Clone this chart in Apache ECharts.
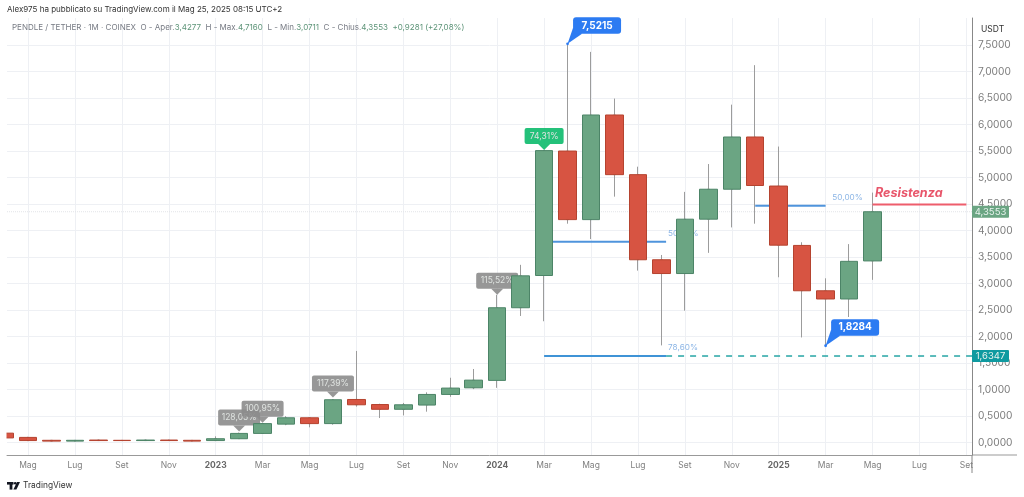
<!DOCTYPE html>
<html>
<head>
<meta charset="utf-8">
<title>PENDLE / TETHER</title>
<style>
  html, body { margin: 0; padding: 0; background: #fff; }
  #chart { width: 1024px; height: 497px; }
</style>
<script src="https://cdn.jsdelivr.net/npm/echarts@6/dist/echarts.min.js"></script>
</head>
<body>
<div id="chart"></div>
<script>
// months, index 0 = Mag 2022, the first candle (Apr 2022) is cut off by the left edge
var monthIndex = [-1,0,1,2,3,4,5,6,7,8,9,10,11,12,13,14,15,16,17,18,19,20,21,22,23,24,25,26,27,28,29,30,31,32,33,34,35,36];
var opens  = [0.18,0.10,0.045,0.03,0.05,0.045,0.04,0.05,0.045,0.04,0.075,0.175,0.35,0.47,0.36,0.815,0.72,0.63,0.71,0.91,1.035,1.175,2.545,3.153,5.50,4.207,6.18,5.055,3.45,3.19,4.215,4.78,5.765,4.84,3.72,2.865,2.71,3.4277];
var closes = [0.09,0.04,0.03,0.045,0.04,0.04,0.05,0.04,0.03,0.075,0.175,0.36,0.47,0.36,0.81,0.715,0.63,0.715,0.91,1.03,1.18,2.545,3.147,5.508,4.207,6.18,5.055,3.45,3.19,4.215,4.78,5.765,4.85,3.725,2.865,2.71,3.42,4.3553];
var lows   = [0.08,0.03,0.025,0.025,0.035,0.035,0.035,0.035,0.025,0.035,0.07,0.17,0.33,0.29,0.34,0.68,0.465,0.515,0.585,0.865,1.01,1.035,2.39,2.29,4.13,3.84,4.64,3.245,1.835,2.49,3.58,4.06,4.13,3.12,1.985,1.8284,2.37,3.0711];
var highs  = [0.19,0.11,0.05,0.05,0.055,0.05,0.055,0.055,0.05,0.12,0.19,0.37,0.50,0.48,0.82,1.73,0.735,0.75,0.95,1.225,1.39,2.79,3.354,5.51,7.5215,7.37,6.49,5.205,3.54,4.73,5.255,6.375,7.12,5.585,3.78,3.10,3.745,4.716];

var tickLabels = ['Mag','Lug','Set','Nov','2023','Mar','Mag','Lug','Set','Nov','2024','Mar','Mag','Lug','Set','Nov','2025','Mar','Mag','Lug','Set'];
var tickValues = tickLabels.map(function (l, i) { return i * 2; });
var priceTicks = [0,0.5,1,1.5,2,2.5,3,3.5,4,4.5,5,5.5,6,6.5,7,7.5];

// price level drawings
var fibA = [[22, 3.79], [27.2, 3.79]];
var fibB = [[31, 4.47], [34, 4.47]];
var fibC = [[22, 1.634], [27.2, 1.634]];
var dashLevel = [[27.2, 1.6347], [40.24, 1.6347]];
var lastLevel = [[-0.895, 4.3553], [40.24, 4.3553]];
var resistLevel = [[36, 4.49], [40, 4.49]];

// callouts: month index, price, text
var pctNotes = [[9,0.21,'128,05%','#8c8c8c'],[10,0.377,'100,95%','#8c8c8c'],[13,0.85,'117,39%','#8c8c8c'],[20,2.79,'115,52%','#8c8c8c'],[22,5.52,'74,31%','#0cba6b']];
var blueNotes = [[23,7.5215,'7,5215'],[34,1.8284,'1,8284']];
var levelTexts = [[27.2,3.94,'50,00%'],[34.2,4.62,'50,00%'],[27.2,1.79,'78,60%']];
var priceTags = [[4.3553,'4,3553','#6ba583'],[1.6347,'1,6347','#0f9aa0']];

var XMIN = -0.895, XMAX = 40.24, YMIN = -0.232, YMAX = 8.009;
var FONT = 'Inter';

function rows(o, c, l, h) {
    return monthIndex.map(function (m, i) { return [m, o[i], c[i], l[i], h[i]]; });
}

var chart = echarts.init(document.getElementById('chart'));

function levelLine(data, color, extra) {
    return Object.assign({
        type: 'line', data: data, symbol: 'none', z: 1, silent: true,
        lineStyle: {color: color, width: 2}
    }, extra || {});
}

chart.setOption({
    animation: false,
    backgroundColor: '#ffffff',
    textStyle: {fontFamily: FONT},
    title: [
        {
            text: 'Alex975 ha pubblicato su TradingView.com il Mag 25, 2025 08:15 UTC+2',
            left: 7, top: 6, padding: 0,
            textStyle: {fontFamily: FONT, fontSize: 8, fontWeight: 'normal', color: '#333'}
        },
        {
            text: '{n|PENDLE / TETHER · 1M · COINEX  O - Aper.}{v|3,4277}{n|  H - Max.}{v|4,7160}{n|  L - Min.}{v|3,0711}{n|  C - Chius.}{v|4,3553}{v|  +0,9281 (+27,08%)}',
            left: 12, top: 24, padding: 0,
            textStyle: {
                fontFamily: FONT, fontSize: 8, fontWeight: 'normal',
                rich: {
                    n: {fontFamily: FONT, fontSize: 8, color: '#777b84'},
                    v: {fontFamily: FONT, fontSize: 8, color: '#5d9478'}
                }
            }
        }
    ],
    grid: {left: 7, right: 52, top: 18, bottom: 42, show: false},
    xAxis: {
        type: 'value', min: XMIN, max: XMAX,
        axisLine: {show: true, onZero: false, lineStyle: {color: '#999', width: 1}},
        axisTick: {show: false, customValues: tickValues},
        splitLine: {show: true, lineStyle: {color: '#eef0f4', width: 1}},
        axisLabel: {
            customValues: tickValues, margin: 6, color: '#808080', fontSize: 8.5, fontFamily: FONT,
            formatter: function (v) {
                var t = tickLabels[Math.round(v / 2)];
                return /^\d+$/.test(t) ? '{y|' + t + '}' : t;
            },
            rich: {y: {fontWeight: 'bold', color: '#666', fontSize: 8.5, fontFamily: FONT}}
        }
    },
    yAxis: {
        type: 'value', position: 'right', min: YMIN, max: YMAX,
        axisLine: {show: true, onZero: false, lineStyle: {color: '#888', width: 1}},
        axisTick: {show: false, customValues: priceTicks},
        splitLine: {show: true, lineStyle: {color: '#eef0f4', width: 1}},
        axisLabel: {
            customValues: priceTicks, margin: 6, color: '#7d7d7d', fontSize: 10.2, fontFamily: FONT,
            formatter: function (v) { return v.toFixed(4).replace('.', ','); }
        }
    },
    series: [
        levelLine(lastLevel, '#e2e4e8', {lineStyle: {color: '#e2e4e8', width: 1, type: 'dotted'}}),
        levelLine(fibA, '#4f94dc'),
        levelLine(fibB, '#4f94dc'),
        levelLine(fibC, '#3f93d6'),
        levelLine(dashLevel, '#26a5a5', {lineStyle: {color: '#26a5a5', width: 1.5, type: [6, 6]}}),
        {
            // level percent texts sit under the candles
            type: 'custom', z: 1, silent: true, data: levelTexts,
            renderItem: function (params, api) {
                var p = api.coord([api.value(0), api.value(1)]);
                return {
                    type: 'text',
                    style: {
                        x: p[0] + 2, y: p[1], text: levelTexts[params.dataIndex][2],
                        fill: '#8db6e6', fontSize: 8.2, fontFamily: FONT, verticalAlign: 'middle'
                    }
                };
            },
            encode: {x: 0, y: 1}
        },
        {
            type: 'custom', z: 1, silent: true, data: pctNotes,
            renderItem: function (params, api) {
                var p = api.coord([api.value(0), api.value(1)]);
                var note = pctNotes[params.dataIndex];
                var w = note[2].length > 6 ? 42 : 39, h = 16, gap = 6;
                return {
                    type: 'group',
                    children: [
                        {type: 'polygon', shape: {points: [[p[0] - 6, p[1] - gap], [p[0] + 6, p[1] - gap], [p[0], p[1]]]},
                            style: {fill: note[3], opacity: 0.9}},
                        {type: 'rect', shape: {x: p[0] - w / 2, y: p[1] - gap - h, width: w, height: h, r: 2},
                            style: {fill: note[3], opacity: 0.9}},
                        {type: 'text', style: {x: p[0], y: p[1] - gap - h / 2, text: note[2], fill: '#dfe3e0', fontSize: 8.5,
                            fontFamily: FONT, align: 'center', verticalAlign: 'middle'}}
                    ]
                };
            },
            encode: {x: 0, y: 1}
        },
        {
            // wicks and grey outline
            type: 'candlestick', name: 'range', z: 2, barWidth: 2,
            data: rows(opens, closes, lows, highs),
            itemStyle: {color: '#9c9c9c', color0: '#9c9c9c', borderColor: '#9c9c9c', borderColor0: '#9c9c9c', borderWidth: 1}
        },
        {
            // candle bodies, no wick
            type: 'candlestick', name: 'body', z: 3, barWidth: 18,
            data: rows(opens, closes,
                opens.map(function (o, i) { return Math.min(o, closes[i]); }),
                opens.map(function (o, i) { return Math.max(o, closes[i]); })),
            itemStyle: {color: '#6ba583', color0: '#d75442', borderColor: '#4c8467', borderColor0: '#b5432f', borderWidth: 1}
        },
        levelLine(resistLevel, '#ee5d6c', {z: 4}),
        {
            type: 'custom', z: 6, silent: true, data: blueNotes,
            renderItem: function (params, api) {
                var p = api.coord([api.value(0), api.value(1)]);
                var note = blueNotes[params.dataIndex];
                var bx = p[0] + 5.5, by = p[1] - 26.5, w = 48, h = 16.5;
                return {
                    type: 'group',
                    children: [
                        {type: 'polygon', shape: {points: [[p[0], p[1]], [bx, by + h - 6], [bx + 9, by + h]]}, style: {fill: '#2c7bf2'}},
                        {type: 'circle', shape: {cx: p[0], cy: p[1], r: 1.4}, style: {fill: '#2c7bf2'}},
                        {type: 'rect', shape: {x: bx, y: by, width: w, height: h, r: 3}, style: {fill: '#2c7bf2'}},
                        {type: 'text', style: {x: bx + w / 2, y: by + h / 2, text: note[2], fill: '#fff', fontSize: 10,
                            fontWeight: 'bold', fontFamily: FONT, align: 'center', verticalAlign: 'middle'}}
                    ]
                };
            },
            encode: {x: 0, y: 1}
        },
        {
            type: 'custom', z: 6, silent: true, data: [[36.1, 4.7]],
            renderItem: function (params, api) {
                var p = api.coord([api.value(0), api.value(1)]);
                return {
                    type: 'text',
                    style: {x: p[0], y: p[1], text: 'Resistenza', fill: '#e8566b', fontSize: 12.6, fontFamily: FONT,
                        fontWeight: 'bold', fontStyle: 'italic', verticalAlign: 'middle'}
                };
            },
            encode: {x: 0, y: 1}
        },
        {
            // price tags next to the axis
            type: 'custom', z: 8, silent: true, data: priceTags.map(function (t) { return [XMAX, t[0]]; }),
            renderItem: function (params, api) {
                var p = api.coord([api.value(0), api.value(1)]);
                var tag = priceTags[params.dataIndex];
                return {
                    type: 'group',
                    children: [
                        {type: 'rect', shape: {x: p[0], y: p[1] - 6, width: 37, height: 12, r: 1}, style: {fill: tag[2]}},
                        {type: 'text', style: {x: p[0] + 18.5, y: p[1], text: tag[1], fill: '#e8f3ee', fontSize: 9.5,
                            fontFamily: FONT, align: 'center', verticalAlign: 'middle'}}
                    ]
                };
            },
            encode: {x: 0, y: 1}
        }
    ],
    graphic: [
        // the candle before the left edge is cut off here
        {type: 'rect', z: 100, shape: {x: 0, y: 18, width: 6.5, height: 437}, style: {fill: '#fff'}},
        {type: 'text', left: 981, top: 25, style: {text: 'USDT', fill: '#333', fontSize: 8.5, fontFamily: FONT}},
        // axis stubs past the plot corner
        {type: 'line', shape: {x1: 972, y1: 455, x2: 1017, y2: 455}, style: {stroke: '#999', lineWidth: 1}},
        {type: 'line', shape: {x1: 972, y1: 455, x2: 972, y2: 473}, style: {stroke: '#888', lineWidth: 1}},
        // TradingView mark
        {type: 'rect', shape: {x: 7, y: 482, width: 6.5, height: 2.6}, style: {fill: '#131722'}},
        {type: 'rect', shape: {x: 9.6, y: 482, width: 2.8, height: 7.6}, style: {fill: '#131722'}},
        {type: 'circle', shape: {cx: 15.2, cy: 483.3, r: 1.3}, style: {fill: '#131722'}},
        {type: 'polygon', shape: {points: [[17, 482], [20, 482], [16.4, 489.6], [13.4, 489.6]]}, style: {fill: '#131722'}},
        {type: 'text', left: 23, top: 481, style: {text: 'TradingView', fill: '#333', fontSize: 8.4, fontFamily: FONT}}
    ]
});
</script>
</body>
</html>
